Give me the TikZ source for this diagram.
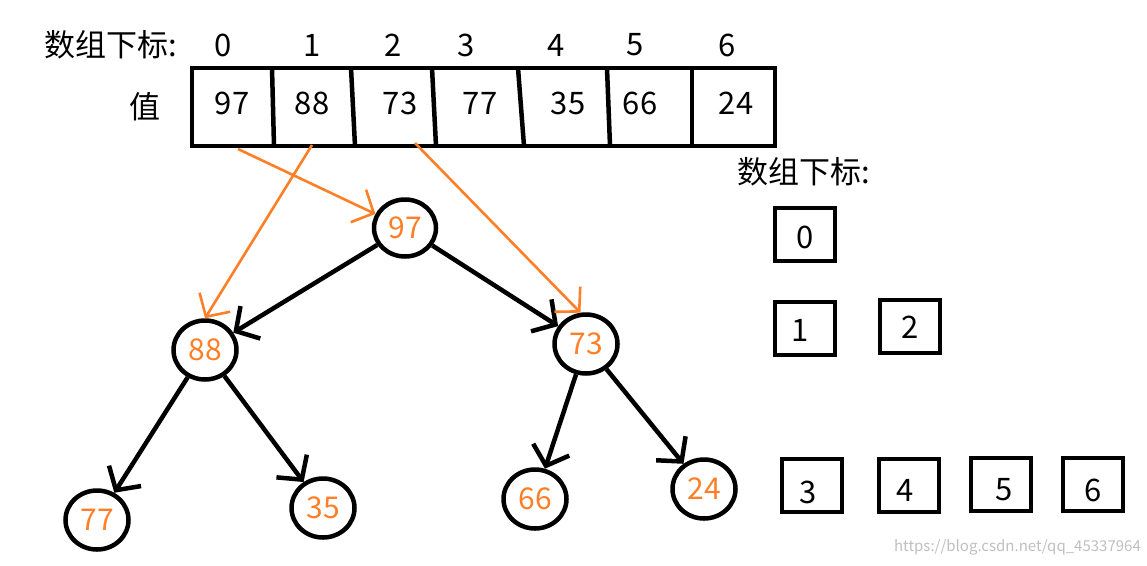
\documentclass[tikz,border=0pt]{standalone}
\usepackage{fontspec}
\setmainfont{Noto Sans CJK SC}
\usetikzlibrary{arrows.meta,shapes.geometric}
\definecolor{orng}{RGB}{255,127,39}
\begin{document}
\begin{tikzpicture}[x=1pt,y=-1pt,
  txt/.style={inner sep=0pt, font=\fontsize{31}{31}\selectfont},
  tn/.style={ellipse, draw, line width=4.5pt, minimum width=63pt, minimum height=59pt, inner sep=0pt, text=orng, font=\fontsize{30}{30}\selectfont},
  bx/.style={draw, line width=4pt, minimum width=60pt, minimum height=53pt, inner sep=0pt},
  edge/.style={line width=4.5pt, -{Straight Barb[length=17pt,width=38pt]}},
  oedge/.style={orng, line width=2.6pt, -{Straight Barb[length=17pt,width=36pt]}},
  frame/.style={line width=4.5pt}
]
\useasboundingbox (0,0) rectangle (1147,565);

% top labels
\node[txt, anchor=west] (lbl) at (44,45) {数组下标:};
\foreach \i/\x in {0/223,1/312,2/393,3/466,4/556,5/635,6/727}
  \node[txt] (i\i) at (\x,45) {\i};
\node[txt] (val) at (145,107) {值};

% array
\draw[frame] (192,68) rectangle (775,146);
\draw[frame] (272,68) -- (274,146);
\draw[frame] (351,68) -- (355,146);
\draw[frame] (432,68) -- (436,146);
\draw[frame] (518,68) -- (524,146);
\draw[frame] (607,68) -- (610,146);
\draw[frame] (692,68) -- (692,146);
\foreach \n/\v/\x in {0/97/232,1/88/312,2/73/400,3/77/480,4/35/568,5/66/640,6/24/736}
  \node[txt] (v\n) at (\x,103) {\v};

% tree
\node[tn, minimum width=62pt, minimum height=57pt] (n97) at (405,228) {97};
\node[tn] (n88) at (205,350) {88};
\node[tn] (n73) at (586,344) {73};
\node[tn] (n77) at (97,520) {77};
\node[tn] (n35) at (323,508) {35};
\node[tn] (n66) at (535,499) {66};
\node[tn] (n24) at (704,489) {24};

\draw[edge] (n97) -- (n88);
\draw[edge] (n97) -- (n73);
\draw[edge] (n88) -- (n77);
\draw[edge] (n88) -- (n35);
\draw[edge] (n73) -- (n66);
\draw[edge] (n73) -- (n24);

% orange arrows
\coordinate (c0) at (238,149);
\coordinate (c1) at (312,145);
\coordinate (c2) at (415,143);
\draw[oedge] (c0) -- (n97);
\draw[oedge] (c1) -- (n88.north);
\draw[oedge] (c2) -- (n73.100);

% right panel
\node[txt, anchor=west] (lbl2) at (737,172) {数组下标:};
\node[bx] (b0) at (805,234) {};
\node[bx] (b1) at (805,328) {};
\node[bx] (b2) at (910,326) {};
\node[bx] (b3) at (812,485) {};
\node[bx] (b4) at (909,485) {};
\node[bx] (b5) at (1001,484) {};
\node[bx] (b6) at (1093,484) {};
\node[txt] (t0) at (805,237) {0};
\node[txt] (t1) at (800,330) {1};
\node[txt] (t2) at (910,327) {2};
\node[txt] (t3) at (808,492) {3};
\node[txt] (t4) at (905,490) {4};
\node[txt] (t5) at (1004,490) {5};
\node[txt] (t6) at (1093,490) {6};

% watermark
\node[inner sep=0pt, anchor=east, text=black!25, font=\fontsize{15}{15}\selectfont] (wm) at (1141,547) {https://blog.csdn.net/qq\_45337964};
\end{tikzpicture}
\end{document}
